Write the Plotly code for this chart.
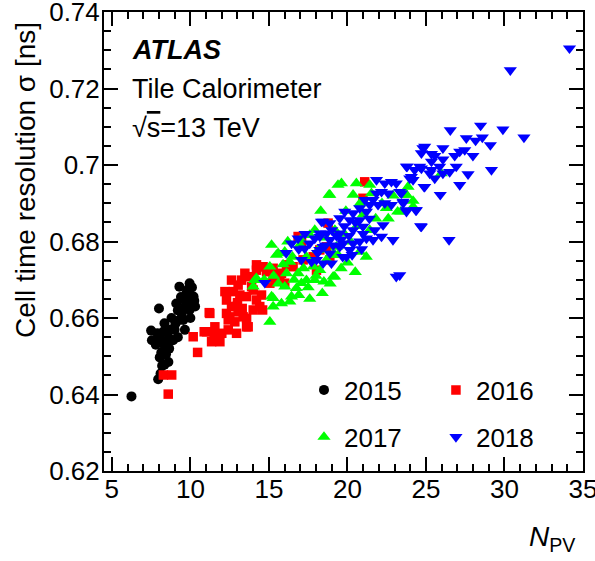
import plotly.graph_objects as go

# ---------------- data ----------------
x2015 = [6.25, 7.95, 8.1, 8.2, 8.6, 8.05, 8.35, 8.45, 7.5, 7.55, 7.8, 8.0, 8.15, 8.35, 8.65, 8.9,
         8.55, 8.35, 8.0, 8.25, 8.75, 9.0, 9.3, 9.45, 9.55, 9.65, 9.1, 9.3, 9.95, 9.75, 10.2, 10.3,
         9.95, 9.95, 9.5, 9.85, 10.1, 9.4, 9.65, 9.2, 8.8, 9.05, 8.7, 9.2, 8.5, 7.9, 8.3, 10.25,
         9.7, 10.0]
y2015 = [0.6395, 0.6440, 0.6455, 0.6475, 0.6485, 0.6497, 0.6478, 0.6505, 0.6567, 0.6542, 0.6530,
         0.6551, 0.6510, 0.6528, 0.6520, 0.6542, 0.6560, 0.6586, 0.6625, 0.6540, 0.6570, 0.6569,
         0.6595, 0.6612, 0.6595, 0.6569, 0.6638, 0.6682, 0.6691, 0.6665, 0.6656, 0.6630, 0.6621,
         0.6643, 0.6650, 0.6675, 0.6680, 0.6655, 0.6630, 0.6620, 0.6600, 0.6585, 0.6545, 0.6550,
         0.6535, 0.6560, 0.6565, 0.6645, 0.6655, 0.6600]

x2016 = [8.59, 8.28, 8.81, 10.18, 10.46, 10.88, 11.24, 11.03, 11.56, 11.77, 11.35, 11.88, 12.41,
         12.94, 12.41, 12.3, 12.62, 13.04, 12.3, 12.73, 12.62, 13.04, 13.58, 13.58, 13.58, 13.36,
         14.0, 14.21, 14.42, 14.53, 13.9, 13.79, 14.21, 14.63, 14.85, 15.27, 15.7, 15.27, 16.01,
         15.8, 15.06, 16.12, 16.54, 16.86, 17.08, 17.18, 17.82, 18.24, 18.67, 18.88, 18.03, 21.1,
         20.99, 18.77, 12.2, 13.26, 13.47, 14.21, 14.53, 14.0, 12.51, 12.83, 13.68, 13.15, 12.94,
         11.2, 12.0, 11.5, 13.0, 13.3, 14.6]
y2016 = [0.6401, 0.6451, 0.6451, 0.6551, 0.6510, 0.6564, 0.6612, 0.6564, 0.6577, 0.6556, 0.6538,
         0.6538, 0.6569, 0.6560, 0.6595, 0.6612, 0.6630, 0.6616, 0.6647, 0.6669, 0.6699, 0.6686,
         0.6656, 0.6599, 0.6577, 0.6603, 0.6621, 0.6647, 0.6630, 0.6660, 0.6682, 0.6708, 0.6725,
         0.6734, 0.6721, 0.6730, 0.6712, 0.6704, 0.6691, 0.6717, 0.6691, 0.6739, 0.6734, 0.6813,
         0.6800, 0.6752, 0.6760, 0.6778, 0.6786, 0.6752, 0.6725, 0.6956, 0.6913, 0.6848, 0.6669,
         0.6699, 0.6717, 0.6739, 0.6734, 0.6673, 0.6603, 0.6590, 0.6577, 0.6660, 0.6630, 0.6614,
         0.6560, 0.6555, 0.6640, 0.6625, 0.6621]

x2017 = [14.1, 14.0, 14.2, 15.06, 15.17, 15.06, 15.59, 16.01, 16.33, 16.12, 16.01, 16.86, 16.75,
         17.07, 17.39, 17.92, 15.27, 15.27, 15.8, 16.33, 16.44, 15.17, 19.09, 19.19, 17.6, 17.92,
         18.13, 17.39, 18.67, 19.09, 19.3, 17.82, 18.24, 18.83, 19.4, 19.62, 20.57, 18.88, 20.36,
         21.42, 21.53, 23.2, 22.48, 23.75, 24.18, 19.19, 19.4, 20.78, 21.42, 23.86, 23.76, 24.18,
         25.98, 23.4, 16.97, 15.48, 16.5, 15.9, 16.6, 17.2, 17.5, 18.0, 18.5, 16.9, 17.6, 18.4,
         18.9, 19.6, 20.0, 20.2, 19.8, 20.6, 21.0, 21.8, 22.2, 22.9, 20.8, 19.9, 18.6, 19.2, 14.7,
         15.3, 15.6, 16.2, 17.0, 18.3, 22.6, 21.2, 20.5]
y2017 = [0.6699, 0.6682, 0.6704, 0.6590, 0.6791, 0.6734, 0.6769, 0.6773, 0.6747, 0.6717, 0.6682,
         0.6717, 0.6678, 0.6691, 0.6699, 0.6699, 0.6652, 0.6630, 0.6638, 0.6643, 0.6656, 0.6656,
         0.6708, 0.6708, 0.6817, 0.6830, 0.6778, 0.6760, 0.6752, 0.6765, 0.6786, 0.6734, 0.6725,
         0.6922, 0.6948, 0.6952, 0.6952, 0.6922, 0.6922, 0.6948, 0.6926, 0.6878, 0.6887, 0.6922,
         0.6891, 0.6765, 0.6765, 0.6773, 0.6830, 0.6943, 0.6922, 0.6906, 0.6978, 0.6878, 0.6791,
         0.6765, 0.6760, 0.6740, 0.6700, 0.6730, 0.6680, 0.6710, 0.6695, 0.6660, 0.6650, 0.6665,
         0.6690, 0.6730, 0.6745, 0.6800, 0.6820, 0.6840, 0.6870, 0.6860, 0.6900, 0.6920, 0.6900,
         0.6880, 0.6810, 0.6830, 0.6700, 0.6710, 0.6690, 0.6800, 0.6805, 0.6880, 0.6860, 0.6760,
         0.6720]

x2018 = [34.14, 30.37, 26.55, 28.48, 29.9, 31.24, 27.57, 28.16, 28.59, 29.1, 26.08, 24.92, 24.71,
         25.35, 25.56, 26.08, 26.83, 27.15, 27.47, 27.99, 26.93, 26.51, 26.08, 25.87, 25.35, 25.35,
         25.24, 25.56, 24.71, 24.28, 23.76, 23.97, 24.18, 27.68, 29.17, 24.88, 27.15, 25.91, 24.35,
         23.76, 23.55, 23.44, 24.66, 26.47, 23.33, 24.81, 23.8, 24.07, 24.6, 24.92, 21.85, 22.8,
         23.11, 22.38, 22.17, 21.85, 22.59, 23.33, 23.54, 22.8, 22.38, 21.95, 21.42, 20.78, 21.1,
         21.63, 21.21, 20.36, 19.83, 19.51, 20.15, 20.78, 23.75, 24.39, 24.71, 22.27, 21.74, 22.17,
         21.63, 22.9, 20.99, 20.36, 19.51, 18.88, 18.45, 18.24, 18.88, 19.72, 20.36, 20.78, 21.21,
         20.15, 19.51, 18.88, 19.94, 18.45, 18.98, 23.11, 18.24, 14.74, 16.44, 16.86, 17.07, 17.71,
         18.03, 17.28, 17.6, 18.35, 18.45, 18.24, 18.67, 17.92, 19.0, 19.3, 19.8, 20.1, 20.5, 21.4,
         21.0, 19.6, 18.6, 19.1, 17.3, 16.9, 16.1, 18.1, 19.7, 20.3, 20.9]
y2018 = [0.7305, 0.7248, 0.7091, 0.7103, 0.7093, 0.7072, 0.7070, 0.7064, 0.7072, 0.7052, 0.7044,
         0.7048, 0.7031, 0.7029, 0.7024, 0.7015, 0.7024, 0.7035, 0.7039, 0.7024, 0.6996, 0.6982,
         0.6978, 0.6996, 0.7009, 0.6987, 0.6978, 0.6965, 0.6991, 0.6987, 0.6996, 0.6965, 0.6961,
         0.6976, 0.6987, 0.6943, 0.6948, 0.6922, 0.6882, 0.6878, 0.6900, 0.6926, 0.6840, 0.6804,
         0.6712, 0.7044, 0.6996, 0.6969, 0.6996, 0.6943, 0.6961, 0.6956, 0.6952, 0.6952, 0.6930,
         0.6926, 0.6926, 0.6930, 0.6904, 0.6896, 0.6900, 0.6896, 0.6896, 0.6887, 0.6909, 0.6909,
         0.6878, 0.6874, 0.6878, 0.6861, 0.6856, 0.6856, 0.6882, 0.6882, 0.6839, 0.6843, 0.6830,
         0.6813, 0.6804, 0.6804, 0.6839, 0.6830, 0.6821, 0.6848, 0.6852, 0.6821, 0.6804, 0.6795,
         0.6795, 0.6800, 0.6808, 0.6778, 0.6786, 0.6769, 0.6760, 0.6743, 0.6743, 0.6708, 0.6778,
         0.6692, 0.6795, 0.6808, 0.6752, 0.6747, 0.6752, 0.6782, 0.6795, 0.6852, 0.6786, 0.6813,
         0.6821, 0.6808, 0.6830, 0.6815, 0.6840, 0.6815, 0.6850, 0.6860, 0.6820, 0.6805, 0.6790,
         0.6790, 0.6820, 0.6780, 0.6770, 0.6770, 0.6760, 0.6765, 0.6780]

series_names = ["2015", "2016", "2017", "2018"]
x_ticks = [5, 10, 15, 20, 25, 30, 35]
y_ticks = [0.62, 0.64, 0.66, 0.68, 0.70, 0.72, 0.74]
y_ticktext = ["0.62", "0.64", "0.66", "0.68", "0.7", "0.72", "0.74"]

FONT = "Liberation Sans, Arial, Helvetica, sans-serif"

fig = go.Figure()
styles = [
    dict(symbol="circle", color="#000000", size=10, legend="legend"),
    dict(symbol="square", color="#ff0000", size=9.5, legend="legend2"),
    dict(symbol="triangle-up", color="#00ff00", size=11.5, legend="legend3"),
    dict(symbol="triangle-down", color="#0000ff", size=11.5, legend="legend4"),
]
for name, xs, ys, st in zip(series_names, [x2015, x2016, x2017, x2018],
                            [y2015, y2016, y2017, y2018], styles):
    fig.add_trace(go.Scatter(
        x=xs, y=ys, mode="markers", name=name, legend=st["legend"],
        marker=dict(symbol=st["symbol"], color=st["color"], size=st["size"],
                    line=dict(width=0)),
    ))

axis_common = dict(
    showline=True, linecolor="black", linewidth=2, mirror="allticks",
    ticks="inside", tickcolor="black", tickwidth=1.5, ticklen=14,
    showgrid=False, zeroline=False, automargin=False,
    ticklabeloverflow="allow",
    tickfont=dict(family=FONT, size=26, color="black"),
)

fig.update_xaxes(range=[4.5, 35], tickmode="array", tickvals=x_ticks,
                 ticklabelstandoff=-6,
                 minor=dict(ticks="inside", dtick=1, tick0=5, ticklen=7,
                            tickcolor="black", tickwidth=1.5),
                 **axis_common)
fig.update_yaxes(range=[0.62, 0.74], tickmode="array", tickvals=y_ticks,
                 ticktext=y_ticktext, ticklabelstandoff=-3,
                 minor=dict(ticks="inside", dtick=0.005, tick0=0.62, ticklen=7,
                            tickcolor="black", tickwidth=1.5),
                 **axis_common)

legend_common = dict(orientation="v", xanchor="left", yanchor="middle",
                     bgcolor="rgba(0,0,0,0)", borderwidth=0,
                     font=dict(family=FONT, size=26, color="black"),
                     itemclick=False, itemdoubleclick=False)

col1, col2 = 0.4175, 0.693
row1, row2 = 0.1765, 0.074
fig.update_layout(
    width=595, height=561,
    margin=dict(l=104, r=12, t=12, b=90),
    plot_bgcolor="white", paper_bgcolor="white",
    font=dict(family=FONT, size=26, color="black"),
    showlegend=True,
    legend=dict(x=col1, y=row1, **legend_common),
    legend2=dict(x=col2, y=row1, **legend_common),
    legend3=dict(x=col1, y=row2, **legend_common),
    legend4=dict(x=col2, y=row2, **legend_common),
)

annos = [
    dict(text="<b><i>ATLAS</i></b>", x=0.054, y=0.917),
    dict(text="Tile Calorimeter", x=0.054, y=0.832),
    dict(text="√<span style=\"text-decoration:overline\">s</span>=13 TeV", x=0.054, y=0.747),
]
for a in annos:
    fig.add_annotation(xref="paper", yref="paper", xanchor="left", yanchor="middle",
                       showarrow=False, font=dict(family=FONT, size=27, color="black"), **a)

fig.add_annotation(xref="paper", yref="paper", x=0.9875, y=-0.148, xanchor="right",
                   yanchor="middle", showarrow=False,
                   text="<i>N</i><sub>PV</sub>",
                   font=dict(family=FONT, size=28, color="black"))
fig.add_annotation(xref="paper", yref="paper", x=-0.1628, y=0.9826, xanchor="center",
                   yanchor="top", showarrow=False, textangle=-90,
                   text="Cell time resolution σ [ns]",
                   font=dict(family=FONT, size=28, color="black"))

fig.write_html("out.html",
               config={"displayModeBar": False},
               post_script="document.body.style.margin='0';document.body.style.padding='0';"
                           "document.body.style.overflow='hidden';")
